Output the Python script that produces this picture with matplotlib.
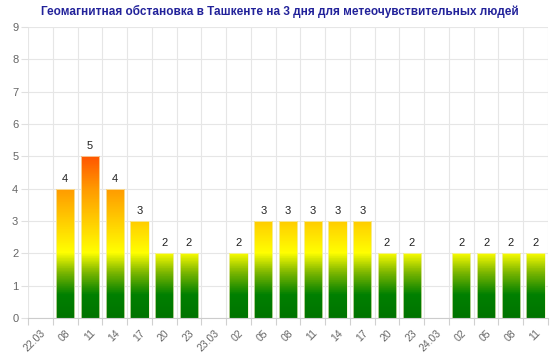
import matplotlib
matplotlib.use("Agg")
import matplotlib.pyplot as plt
import matplotlib.transforms as mtransforms
import numpy as np
from matplotlib.colors import LinearSegmentedColormap

title = "Геомагнитная обстановка в Ташкенте на 3 дня для метеочувствительных людей"
labels = ["22.03", "08", "11", "14", "17", "20", "23",
          "23.03", "02", "05", "08", "11", "14", "17", "20", "23",
          "24.03", "02", "05", "08", "11"]
values = [None, 4, 5, 4, 3, 2, 2,
          None, 2, 3, 3, 3, 3, 3, 2, 2,
          None, 2, 2, 2, 2]

ymax = 9
# colour along the value axis (absolute), green -> yellow -> orange -> red
stops = [(0.0, "#007400"), (0.7, "#008000"), (1.4, "#7fb800"), (2.0, "#ffff00"),
         (4.0, "#ff9900"), (5.0, "#ff5500"), (9.0, "#ff0000")]
cmap = LinearSegmentedColormap.from_list("kp", [(v / ymax, c) for v, c in stops])

plt.rcParams["font.family"] = ["Liberation Sans", "DejaVu Sans"]

fig = plt.figure(figsize=(5.6, 3.54), dpi=100)
ax = fig.add_axes([28 / 560, 1 - 318 / 354, 520 / 560, 291 / 354])

x = np.arange(len(labels))
grad = np.linspace(0, ymax, 400).reshape(-1, 1)
bw = 0.74
for xi, v in zip(x, values):
    if v is None:
        continue
    bar = ax.bar(xi, v, width=bw, color="none", edgecolor="#f4f0c8",
                 linewidth=0.5, zorder=3)[0]
    im = ax.imshow(grad, cmap=cmap, vmin=0, vmax=ymax, origin="lower",
                   extent=(xi - bw / 2, xi + bw / 2, 0, ymax),
                   aspect="auto", zorder=2)
    im.set_clip_path(bar)
    ax.text(xi, v + 0.15, str(v), ha="center", va="bottom", fontsize=8,
            color="#222222", zorder=4)

ax.set_xlim(-0.5, len(labels) - 0.5)
ax.set_ylim(0, ymax)
ax.set_yticks(range(0, ymax + 1))
ax.set_xticks(x)
ax.set_xticklabels(labels, rotation=45, ha="right", rotation_mode="anchor",
                   fontsize=7.5, color="#666666")
shift = mtransforms.ScaledTranslation(-5 / 100, 0, fig.dpi_scale_trans)
for lab in ax.get_xticklabels():
    lab.set_transform(lab.get_transform() + shift)
ax.set_xticks(np.arange(-0.5, len(labels)), minor=True)
ax.tick_params(axis="x", which="major", length=0, pad=7)
ax.tick_params(axis="x", which="minor", length=5, color="#d0d0d0", width=0.8)
ax.tick_params(axis="y", length=5, color="#e0e0e0", labelsize=8,
               labelcolor="#666666", pad=2)
ax.grid(True, axis="y", color="#e6e6e6", linewidth=0.8, zorder=0)
ax.grid(True, axis="x", which="minor", color="#e6e6e6", linewidth=0.8, zorder=0)
ax.set_axisbelow(True)
for s in ["top", "right", "left"]:
    ax.spines[s].set_visible(False)
ax.spines["bottom"].set_color("#cccccc")

fig.text(0.5, 1 - 11 / 354, title, ha="center", va="center", fontsize=8.5,
         fontweight="bold", color="#22229a")

fig.savefig("out.png", dpi=100)
